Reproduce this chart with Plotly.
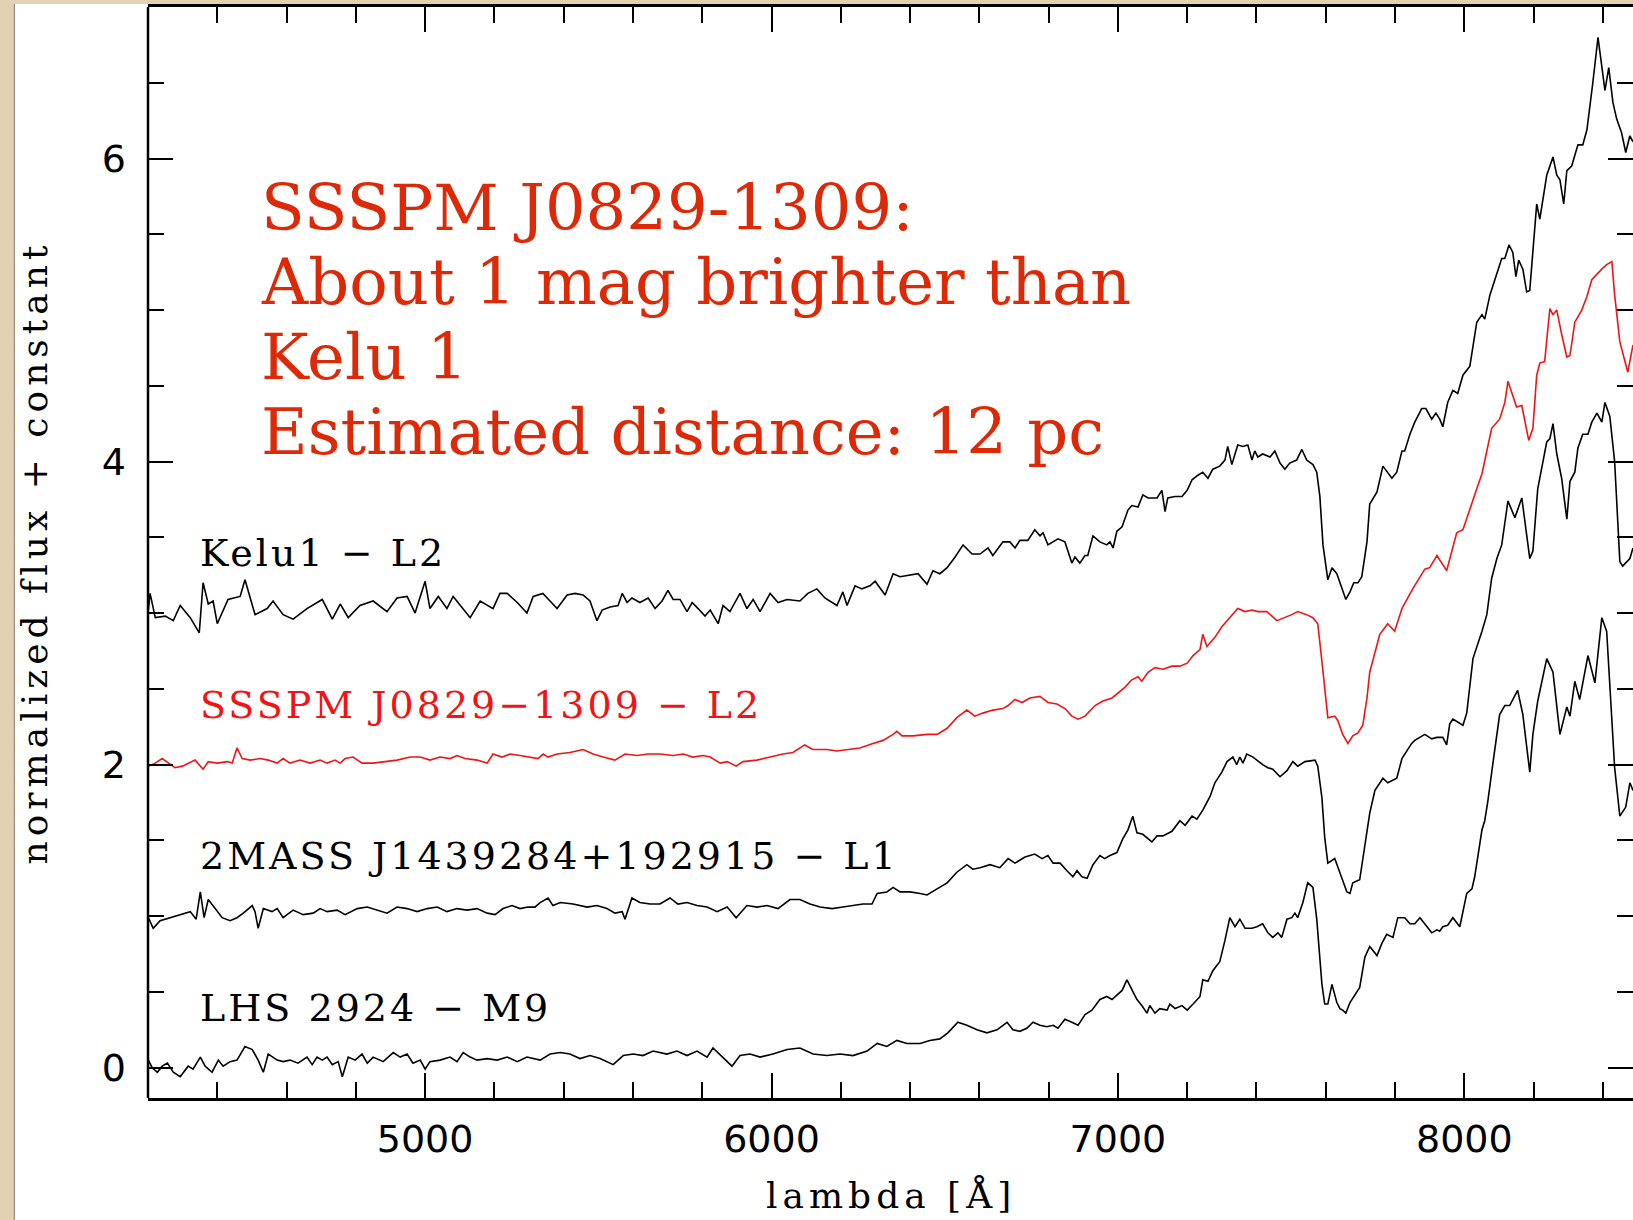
import plotly.graph_objects as go

# ---------------- data ----------------
kelu_wave = [4200,4206,4221,4250,4273,4293,4322,4348,4359,4374,4388,4400,4431,4466,4480,4509,4544,4561,4590,4619,
             4659,4703,4732,4755,4778,4812,4850,4890,4919,4948,4971,5000,5014,5038,5063,5081,5130,5159,5196,5216,
             5237,5266,5294,5312,5340,5381,5410,5433,5456,5476,5496,5511,5534,5557,5569,5583,5597,5620,5644,5664,
             5684,5701,5716,5736,5756,5771,5788,5808,5823,5846,5860,5880,5909,5929,5947,5967,5996,6019,6045,6082,
             6105,6131,6154,6189,6206,6218,6241,6261,6284,6299,6328,6351,6371,6394,6423,6449,6466,6486,6507,6530,
             6553,6579,6602,6625,6639,6668,6688,6703,6717,6740,6760,6775,6784,6798,6827,6847,6867,6876,6890,6905,
             6913,6928,6948,6968,6977,6986,6997,7012,7029,7040,7058,7072,7087,7113,7127,7136,7144,7165,7185,7200,
             7214,7231,7245,7260,7274,7294,7309,7317,7329,7338,7346,7361,7375,7387,7395,7404,7418,7439,7453,7468,
             7482,7496,7516,7531,7545,7563,7574,7583,7592,7606,7618,7632,7646,7658,7670,7681,7693,7704,7719,7727,
             7748,7756,7765,7791,7805,7820,7828,7843,7857,7877,7889,7906,7918,7929,7938,7952,7967,7981,7996,8016,
             8036,8051,8059,8074,8094,8108,8117,8129,8140,8149,8157,8169,8180,8189,8209,8218,8238,8256,8267,8276,
             8287,8296,8310,8328,8342,8354,8371,8386,8406,8417,8429,8440,8454,8466,8478,8487]
kelu_flux = [3.00,3.13,2.97,2.98,2.95,3.05,2.97,2.87,3.20,3.06,3.08,2.93,3.09,3.11,3.22,2.99,3.03,3.08,2.99,2.96,
             3.03,3.09,2.96,3.06,2.97,3.05,3.08,3.01,3.10,3.11,3.00,3.21,3.03,3.11,3.03,3.11,2.97,3.08,3.03,3.13,
             3.13,3.07,3.00,3.11,3.13,3.03,3.12,3.13,3.12,3.08,2.95,3.02,3.04,3.05,3.13,3.07,3.10,3.07,3.10,3.03,
             3.08,3.15,3.09,3.09,3.01,3.07,3.03,2.98,3.02,2.93,3.05,3.01,3.13,3.03,3.09,3.01,3.13,3.07,3.09,3.08,
             3.13,3.16,3.10,3.05,3.14,3.05,3.18,3.16,3.18,3.21,3.12,3.26,3.24,3.25,3.26,3.19,3.28,3.26,3.30,3.37,
             3.45,3.39,3.39,3.43,3.38,3.47,3.47,3.43,3.48,3.48,3.55,3.51,3.53,3.45,3.49,3.47,3.33,3.37,3.33,3.38,
             3.38,3.51,3.47,3.45,3.47,3.43,3.54,3.57,3.68,3.71,3.70,3.78,3.76,3.76,3.81,3.67,3.76,3.77,3.77,3.81,
             3.88,3.91,3.93,3.89,3.95,3.97,4.01,4.10,3.98,4.05,4.11,4.10,4.11,4.01,4.07,4.03,4.05,4.03,4.07,3.99,
             3.95,3.99,4.01,4.08,4.01,3.98,3.93,3.77,3.45,3.22,3.30,3.26,3.16,3.09,3.14,3.20,3.20,3.24,3.47,3.72,
             3.80,3.89,3.97,3.89,3.93,4.07,4.07,4.18,4.26,4.35,4.35,4.28,4.32,4.28,4.23,4.39,4.47,4.45,4.57,4.63,
             4.92,4.97,4.94,5.10,5.25,5.34,5.34,5.43,5.38,5.22,5.33,5.27,5.12,5.13,5.70,5.60,5.89,6.01,5.89,5.86,
             5.70,5.92,5.95,6.09,6.09,6.19,6.50,6.80,6.45,6.60,6.37,6.26,6.17,6.04,6.15,6.11]

sssp_wave = [4201,4221,4241,4258,4278,4299,4316,4336,4359,4374,4400,4429,4443,4457,4472,4495,4524,4547,4573,4590,
             4610,4639,4668,4697,4717,4740,4755,4769,4792,4818,4850,4890,4919,4957,4986,5014,5043,5072,5092,5115,
             5150,5179,5196,5222,5245,5274,5303,5326,5341,5355,5381,5418,5456,5485,5514,5548,5577,5612,5644,5678,
             5716,5745,5773,5802,5823,5852,5872,5898,5918,5958,5996,6033,6062,6096,6119,6160,6189,6221,6255,6293,
             6322,6351,6362,6377,6408,6449,6478,6507,6535,6564,6587,6610,6639,6668,6683,6703,6723,6746,6775,6798,
             6824,6847,6867,6885,6905,6934,6957,6983,7000,7020,7040,7058,7069,7087,7107,7130,7156,7179,7200,7217,
             7237,7245,7257,7280,7300,7323,7346,7367,7387,7404,7430,7459,7482,7502,7519,7545,7563,7577,7589,7606,
             7626,7635,7649,7664,7678,7693,7707,7719,7727,7756,7779,7799,7820,7851,7886,7900,7921,7949,7978,7996,
             8036,8051,8079,8102,8117,8126,8151,8166,8186,8198,8209,8218,8232,8247,8256,8267,8281,8296,8305,8319,
             8339,8354,8368,8383,8397,8411,8426,8434,8449,8472,8487]
sssp_flux = [1.99,2.01,2.04,2.01,1.98,1.99,2.01,2.03,1.97,2.02,2.01,2.02,2.01,2.11,2.04,2.03,2.04,2.03,2.01,2.04,
             2.01,2.03,2.01,2.03,2.01,2.03,2.01,2.04,2.05,2.01,2.01,2.02,2.03,2.05,2.05,2.03,2.05,2.04,2.06,2.04,
             2.03,2.01,2.07,2.05,2.07,2.06,2.05,2.04,2.07,2.05,2.07,2.08,2.10,2.07,2.05,2.03,2.07,2.06,2.07,2.07,
             2.06,2.07,2.05,2.06,2.05,2.01,2.02,1.99,2.02,2.03,2.05,2.07,2.08,2.13,2.10,2.10,2.09,2.10,2.11,2.14,
             2.16,2.20,2.22,2.19,2.19,2.20,2.20,2.24,2.31,2.36,2.32,2.34,2.36,2.37,2.39,2.43,2.41,2.44,2.45,2.41,
             2.40,2.37,2.32,2.30,2.32,2.39,2.42,2.44,2.47,2.51,2.56,2.58,2.55,2.61,2.64,2.63,2.65,2.65,2.67,2.72,
             2.76,2.86,2.78,2.84,2.91,2.97,3.03,3.01,3.02,3.01,3.01,2.95,2.97,2.99,3.01,2.99,2.97,2.93,2.68,2.31,
             2.32,2.29,2.20,2.14,2.19,2.21,2.26,2.44,2.61,2.86,2.93,2.88,3.03,3.16,3.29,3.30,3.38,3.28,3.53,3.55,
             3.82,3.92,4.22,4.28,4.39,4.53,4.36,4.37,4.14,4.22,4.57,4.65,4.66,5.01,4.97,5.00,4.84,4.69,4.70,4.92,
             5.00,5.09,5.20,5.24,5.27,5.30,5.32,5.10,4.79,4.59,4.77]

mass_wave = [4201,4215,4235,4264,4293,4322,4339,4351,4362,4374,4394,4414,4437,4457,4475,4501,4509,4518,4533,4558,
             4573,4590,4619,4648,4677,4697,4717,4746,4769,4804,4833,4861,4890,4919,4948,4977,5006,5035,5063,5092,
             5121,5150,5179,5202,5225,5251,5274,5297,5317,5332,5355,5369,5390,5427,5468,5496,5525,5548,5569,5577,
             5597,5620,5649,5678,5707,5730,5756,5785,5814,5843,5872,5898,5929,5958,5987,6019,6053,6082,6111,6140,
             6175,6206,6235,6264,6290,6305,6333,6351,6371,6400,6429,6449,6478,6507,6535,6564,6581,6602,6631,6659,
             6683,6703,6732,6760,6781,6798,6813,6833,6853,6870,6882,6896,6911,6928,6948,6962,6977,6997,7014,7029,
             7043,7055,7072,7098,7113,7130,7156,7179,7194,7214,7228,7245,7266,7280,7300,7315,7332,7343,7352,7361,
             7372,7390,7418,7433,7447,7468,7488,7505,7519,7540,7569,7577,7589,7597,7606,7626,7661,7670,7678,7698,
             7727,7736,7742,7765,7779,7805,7820,7848,7857,7886,7906,7921,7938,7949,7958,7967,7981,7996,8007,8025,
             8051,8065,8079,8094,8108,8126,8146,8166,8189,8198,8212,8238,8247,8256,8267,8281,8296,8305,8319,8328,
             8342,8357,8368,8383,8397,8406,8420,8434,8449,8457,8478,8487]
mass_flux = [0.99,0.92,0.97,0.99,1.01,1.03,0.98,1.16,0.99,1.11,1.05,0.99,0.97,0.99,1.02,1.07,1.03,0.92,1.05,1.03,
             1.05,0.99,1.04,1.01,1.02,1.05,1.03,1.04,1.01,1.05,1.06,1.04,1.02,1.06,1.05,1.03,1.05,1.06,1.03,1.05,
             1.04,1.05,1.02,1.01,1.05,1.07,1.05,1.06,1.06,1.09,1.12,1.07,1.09,1.08,1.06,1.07,1.05,1.02,1.03,0.98,
             1.12,1.09,1.08,1.08,1.12,1.08,1.09,1.07,1.06,1.03,1.06,0.99,1.07,1.06,1.07,1.05,1.11,1.11,1.08,1.06,
             1.05,1.06,1.07,1.08,1.08,1.15,1.16,1.19,1.16,1.16,1.15,1.14,1.18,1.22,1.29,1.34,1.31,1.32,1.34,1.32,
             1.38,1.35,1.39,1.41,1.38,1.40,1.35,1.35,1.30,1.26,1.30,1.26,1.25,1.34,1.40,1.38,1.40,1.42,1.51,1.57,
             1.66,1.55,1.54,1.49,1.53,1.53,1.56,1.63,1.60,1.66,1.64,1.70,1.79,1.88,1.95,2.02,2.05,2.00,2.05,2.01,
             2.07,2.05,2.00,1.98,1.97,1.92,1.96,2.02,1.99,2.02,2.03,1.99,1.78,1.52,1.35,1.38,1.16,1.15,1.22,1.24,
             1.68,1.76,1.83,1.91,1.88,1.91,2.04,2.14,2.16,2.20,2.17,2.18,2.18,2.13,2.27,2.30,2.28,2.26,2.34,2.70,
             2.88,2.99,3.23,3.36,3.45,3.74,3.63,3.76,3.36,3.41,3.82,4.13,4.15,4.25,4.05,3.89,3.62,3.87,3.93,4.09,
             4.18,4.18,4.26,4.32,4.26,4.39,4.30,4.00,3.34,3.31,3.36,3.43]

lhs_wave = [4201,4212,4227,4241,4256,4273,4293,4316,4330,4351,4365,4385,4403,4417,4437,4457,4480,4501,4518,4533,
            4547,4573,4590,4610,4633,4659,4674,4688,4703,4717,4732,4749,4761,4778,4798,4818,4833,4850,4879,4908,
            4928,4948,4965,4986,5000,5014,5043,5072,5092,5110,5130,5150,5179,5208,5237,5266,5294,5332,5361,5390,
            5418,5447,5476,5505,5543,5572,5601,5629,5658,5698,5727,5756,5785,5814,5831,5860,5886,5909,5938,5967,
            6004,6045,6082,6120,6160,6198,6235,6276,6305,6333,6362,6391,6429,6457,6486,6509,6538,6564,6593,6622,
            6651,6680,6697,6717,6737,6755,6775,6795,6813,6827,6847,6867,6885,6905,6925,6948,6968,6983,6997,7012,
            7026,7040,7055,7069,7084,7092,7107,7121,7142,7150,7165,7185,7200,7217,7237,7245,7260,7274,7294,7309,
            7323,7338,7352,7367,7387,7401,7418,7433,7447,7462,7473,7488,7502,7511,7519,7534,7548,7563,7574,7589,
            7597,7606,7618,7632,7641,7649,7658,7670,7684,7698,7713,7727,7748,7762,7776,7794,7808,7828,7843,7857,
            7872,7886,7906,7921,7929,7938,7952,7967,7987,8007,8022,8030,8051,8059,8068,8085,8102,8117,8131,8154,
            8169,8189,8198,8212,8238,8256,8276,8296,8305,8319,8333,8357,8377,8397,8411,8434,8449,8466,8478,8487]
lhs_flux = [0.05,0.00,-0.03,0.01,0.03,-0.03,-0.06,0.01,-0.01,0.07,0.01,-0.03,0.05,0.01,0.04,0.05,0.14,0.12,0.05,-0.03,
            0.09,0.05,0.04,0.05,0.03,0.07,0.02,0.07,0.05,0.07,0.02,0.04,-0.06,0.07,0.05,0.09,0.03,0.07,0.04,0.10,
            0.07,0.09,0.03,0.05,-0.01,0.04,0.05,0.07,0.04,0.10,0.07,0.05,0.06,0.05,0.07,0.04,0.07,0.05,0.09,0.10,
            0.09,0.06,0.08,0.06,0.02,0.08,0.09,0.08,0.11,0.09,0.11,0.08,0.11,0.07,0.13,0.07,0.01,0.08,0.09,0.07,
            0.09,0.12,0.13,0.09,0.08,0.09,0.08,0.11,0.16,0.14,0.18,0.16,0.16,0.18,0.19,0.23,0.30,0.28,0.25,0.23,
            0.25,0.30,0.25,0.24,0.26,0.30,0.28,0.27,0.28,0.26,0.32,0.30,0.28,0.35,0.38,0.45,0.47,0.45,0.48,0.51,
            0.58,0.52,0.45,0.41,0.36,0.41,0.36,0.39,0.38,0.42,0.39,0.41,0.38,0.42,0.47,0.58,0.57,0.64,0.70,0.84,
            0.99,0.93,0.98,0.92,0.92,0.93,0.95,0.89,0.86,0.89,0.86,0.98,0.99,1.02,0.99,1.09,1.22,1.19,0.98,0.55,
            0.42,0.42,0.55,0.43,0.39,0.38,0.36,0.43,0.48,0.53,0.73,0.80,0.74,0.82,0.88,0.86,0.99,0.99,0.95,0.95,
            0.99,0.95,0.89,0.91,0.90,0.93,0.94,0.99,0.93,1.15,1.18,1.26,1.57,1.63,1.76,2.05,2.33,2.39,2.39,2.49,
            2.33,1.95,2.20,2.42,2.70,2.61,2.20,2.38,2.32,2.55,2.43,2.72,2.54,2.97,2.88,1.98,1.66,1.72,1.88,1.83]

star_labels = ["Kelu1 \u2212 L2", "SSSPM J0829\u22121309 \u2212 L2",
               "2MASS J1439284+192915 \u2212 L1", "LHS 2924 \u2212 M9"]
note_lines = ["SSSPM J0829-1309:", "About 1 mag brighter than", "Kelu 1",
              "Estimated distance: 12 pc"]
x_ticks = [5000, 6000, 7000, 8000]
y_ticks = [0, 2, 4, 6]
x_title = "lambda [\u00c5]"
y_title = "normalized flux + constant"

# ---------------- styling ----------------
RED = "#F01414"
NOTE_RED = "#DC2A08"
BLACK = "#000000"
SERIF = "DejaVu Serif"

series = [
    (kelu_wave, kelu_flux, BLACK),
    (sssp_wave, sssp_flux, RED),
    (mass_wave, mass_flux, BLACK),
    (lhs_wave, lhs_flux, BLACK),
]
label_colors = [BLACK, RED, BLACK, BLACK]
label_y = [0.4995, 0.3602, 0.2218, 0.0825]
note_y = [0.8158, 0.7479, 0.6792, 0.6104]

fig = go.Figure()
for w, f, c in series:
    fig.add_trace(go.Scatter(x=w, y=f, mode="lines",
                             line=dict(color=c, width=1.6),
                             hoverinfo="skip", showlegend=False))

annotations = []
for txt, col, yy in zip(star_labels, label_colors, label_y):
    annotations.append(dict(
        text='<span style="letter-spacing:3px">' + txt + '</span>',
        xref="paper", yref="paper", x=0.0337, y=yy,
        xanchor="left", yanchor="middle", showarrow=False,
        font=dict(family=SERIF, size=38, color=col)))
for txt, yy in zip(note_lines, note_y):
    annotations.append(dict(
        text=txt, xref="paper", yref="paper", x=0.0748, y=yy,
        xanchor="left", yanchor="middle", showarrow=False,
        font=dict(family=SERIF, size=64, color=NOTE_RED)))
annotations.append(dict(
    text='<span style="letter-spacing:5px">' + x_title + '</span>',
    xref="paper", yref="paper", x=0.5, y=-0.0898,
    xanchor="center", yanchor="middle", showarrow=False,
    font=dict(family=SERIF, size=36, color=BLACK)))
annotations.append(dict(
    text='<span style="letter-spacing:5px">' + y_title + '</span>',
    xref="paper", yref="paper", x=-0.0761, y=0.5, textangle=-90,
    xanchor="center", yanchor="middle", showarrow=False,
    font=dict(family=SERIF, size=36, color=BLACK)))

shapes = [
    # slide background strips around the cropped figure
    dict(type="rect", xref="paper", yref="paper", x0=-0.0997, x1=-0.0896,
         y0=-0.12, y1=1.01, fillcolor="#E3D1B4", line=dict(width=0), layer="above"),
    dict(type="line", xref="paper", yref="paper", x0=-0.0900, x1=-0.0900,
         y0=-0.12, y1=1.0027, line=dict(color="#9C8E78", width=1.2), layer="above"),
    dict(type="rect", xref="paper", yref="paper", x0=-0.0997, x1=1.01,
         y0=1.0027, y1=1.01, fillcolor="#E3D1B4", line=dict(width=0), layer="above"),
    # left axis line
    dict(type="line", xref="paper", yref="paper", x0=0, x1=0, y0=0, y1=1,
         line=dict(color=BLACK, width=2.5), layer="above"),
]

fig.update_layout(
    width=1633, height=1220,
    margin=dict(l=148, r=0, t=7, b=122),
    paper_bgcolor="white", plot_bgcolor="white",
    showlegend=False, annotations=annotations, shapes=shapes,
)
tickfont = dict(family="DejaVu Sans", size=38, color=BLACK)
fig.update_xaxes(
    range=[4200, 8487], tickmode="array", tickvals=x_ticks,
    ticks="inside", ticklen=25, tickwidth=2, tickcolor=BLACK,
    showline=True, linewidth=2.5, linecolor=BLACK, mirror="ticks",
    showgrid=False, zeroline=False, tickfont=tickfont, ticklabelstandoff=6,
    minor=dict(tickmode="linear", tick0=0, dtick=200, ticks="inside",
               ticklen=16, tickwidth=2, tickcolor=BLACK, showgrid=False),
)
fig.update_yaxes(
    range=[-0.2, 7.0], tickmode="array", tickvals=y_ticks,
    ticks="inside", ticklen=25, tickwidth=2, tickcolor=BLACK,
    showline=False, mirror="ticks",
    showgrid=False, zeroline=False, tickfont=tickfont, ticklabelstandoff=21,
    minor=dict(tickmode="linear", tick0=0, dtick=0.5, ticks="inside",
               ticklen=16, tickwidth=2, tickcolor=BLACK, showgrid=False),
)

fig.write_html("out.html")
